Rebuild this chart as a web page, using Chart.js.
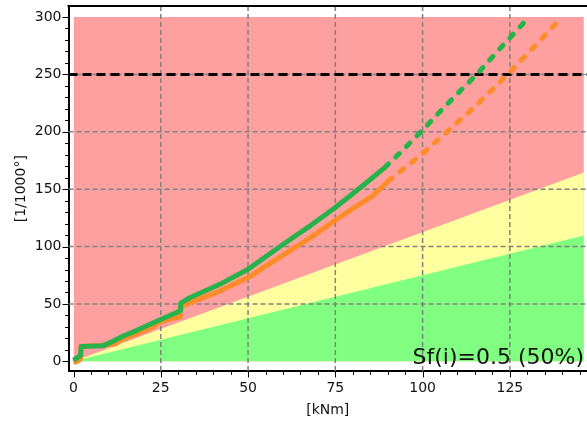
<!DOCTYPE html>
<html>
<head>
<meta charset="utf-8">
<script src="https://cdn.jsdelivr.net/npm/chart.js@4/dist/chart.umd.min.js"></script>
<style>
  html, body { margin: 0; padding: 0; background: #fff; }
  #wrap { width: 587px; height: 423px; }
</style>
</head>
<body>
<div id="wrap"><canvas id="angleChart"></canvas></div>
<script>
// twist angle vs torque, measured part solid, projected part dashed
var greenMeasuredX = [0, 1.2, 2, 2.2, 8.4, 11.3, 14.1, 18, 21.8, 25.6, 29.4, 30.6, 30.7, 33.3, 41.9, 50, 61, 68, 74.8, 80, 85.8, 89.2];
var greenMeasuredY = [1, 3.5, 5, 13, 13.5, 17.5, 21.9, 26.8, 32.1, 37.4, 42.3, 44.5, 50.7, 55.4, 67.1, 80.2, 104, 118.5, 133.6, 146, 160.4, 169];
var greenForecastX = [89.2, 94, 99.5, 107, 115.5, 122, 129];
var greenForecastY = [169, 183, 200, 224, 250, 272, 295];

var orangeMeasuredX = [0, 1, 2, 2.2, 8, 10, 12.2, 12.8, 15, 18, 22, 25, 28, 30.3, 30.5, 33.3, 41.9, 50, 61, 68, 74.8, 80, 85.8, 87.7, 90.1];
var orangeMeasuredY = [-1, 0, 2, 13, 14, 14.5, 15.5, 17.5, 20.5, 24, 29, 34.5, 37, 38.5, 47, 51, 61.2, 73, 94.5, 108, 122.5, 133, 144.4, 150, 157];
var orangeForecastX = [90.1, 100, 107, 115, 124.4, 131, 138.4];
var orangeForecastY = [157, 181, 200, 222, 250, 271, 295];

// zone boundaries (lower edge is the x axis)
var zoneX = [0, 146.2];
var redTop = [300, 300];
var yellowTop = [0, 164.5];
var greenTop = [0, 109.6];

var limitValue = 250;
var xMin = -1.43, xMax = 147.1;
var yMin = -8.75, yMax = 309.6;

// axis ticks: labelled every xLabelStep / yLabelStep, minor marks in between
var xTickStep = 5, xLabelStep = 25, xTickLast = 145;
var yTickStep = 10, yLabelStep = 50, yTickLast = 300;
var factorLabel = 'Sf(i)=0.5 (50%)';

function pts(xs, ys) {
  return xs.map(function (v, i) { return { x: v, y: ys[i] }; });
}
function tickList(step, last) {
  var out = [];
  for (var v = 0; v <= last; v += step) out.push({ value: v });
  return out;
}

var FONT = 'DejaVu Sans';
var INK = '#111';

var overlay = {
  id: 'overlay',
  afterDatasetDraw: function (chart, args) {
    if (args.index !== 2) return; // grid goes above the zones, under the curves
    var ctx = chart.ctx, a = chart.chartArea, sx = chart.scales.x, sy = chart.scales.y;
    ctx.save();
    ctx.strokeStyle = '#808080';
    ctx.lineWidth = 1.5;
    ctx.setLineDash([5, 3]);
    ctx.beginPath();
    sx.ticks.forEach(function (t) {
      if (t.value <= 0 || t.value % xLabelStep !== 0) return;
      var p = sx.getPixelForValue(t.value);
      ctx.moveTo(p, a.top); ctx.lineTo(p, a.bottom);
    });
    sy.ticks.forEach(function (t) {
      if (t.value <= 0 || t.value >= yTickLast || t.value % yLabelStep !== 0) return;
      var p = sy.getPixelForValue(t.value);
      ctx.moveTo(a.left, p); ctx.lineTo(a.right, p);
    });
    ctx.stroke();
    ctx.restore();
  },
  afterDatasetsDraw: function (chart) {
    var ctx = chart.ctx, a = chart.chartArea, sy = chart.scales.y;
    ctx.save();
    ctx.fillStyle = INK;
    ctx.font = '22px "' + FONT + '"';
    ctx.textAlign = 'right';
    ctx.textBaseline = 'alphabetic';
    ctx.fillText(factorLabel, a.right - 3, sy.getPixelForValue(0) + 3);
    ctx.restore();
  },
  afterDraw: function (chart) {
    var ctx = chart.ctx, a = chart.chartArea, sx = chart.scales.x, sy = chart.scales.y;
    ctx.save();
    ctx.strokeStyle = '#000';
    ctx.lineWidth = 1;
    ctx.beginPath();
    sx.ticks.forEach(function (t) {
      var p = Math.round(sx.getPixelForValue(t.value)) + 0.5;
      var len = t.value % xLabelStep === 0 ? 6 : 3.5;
      ctx.moveTo(p, a.bottom); ctx.lineTo(p, a.bottom + len);
    });
    sy.ticks.forEach(function (t) {
      var p = Math.round(sy.getPixelForValue(t.value)) + 0.5;
      var len = t.value % yLabelStep === 0 ? 6 : 3.5;
      ctx.moveTo(a.left, p); ctx.lineTo(a.left - len, p);
    });
    ctx.stroke();
    ctx.lineWidth = 2;
    ctx.beginPath();
    ctx.moveTo(a.left - 1, a.top); ctx.lineTo(a.right, a.top);
    ctx.stroke();
    ctx.restore();
  }
};

var ctx = document.getElementById('angleChart').getContext('2d');
var angleChart = new Chart(ctx, {
  type: 'line',
  data: {
    datasets: [
      { data: pts(zoneX, redTop), backgroundColor: 'rgb(255,160,160)', fill: 'origin', borderWidth: 0, order: 9 },
      { data: pts(zoneX, yellowTop), backgroundColor: 'rgb(255,255,160)', fill: 'origin', borderWidth: 0, order: 8 },
      { data: pts(zoneX, greenTop), backgroundColor: 'rgb(128,255,128)', fill: 'origin', borderWidth: 0, order: 7 },
      { data: pts([xMin, xMax], [limitValue, limitValue]), borderColor: '#000', borderWidth: 3, borderDash: [9, 5], order: 6 },
      { data: pts(orangeForecastX, orangeForecastY), borderColor: 'rgb(255,140,40)', borderWidth: 5, borderDash: [5, 10], borderCapStyle: 'round', order: 5 },
      { data: pts(greenForecastX, greenForecastY), borderColor: 'rgb(40,178,76)', borderWidth: 5, borderDash: [5, 10], borderCapStyle: 'round', order: 4 },
      { data: pts(orangeMeasuredX, orangeMeasuredY), borderColor: 'rgb(255,140,40)', borderWidth: 5, borderJoinStyle: 'round', order: 3 },
      { data: pts(greenMeasuredX, greenMeasuredY), borderColor: 'rgb(40,178,76)', borderWidth: 5, borderJoinStyle: 'round', order: 2 }
    ]
  },
  options: {
    responsive: true,
    maintainAspectRatio: false,
    animation: false,
    events: [],
    layout: { padding: { top: 6, right: 0, bottom: 4, left: 13 } },
    elements: { point: { radius: 0 }, line: { tension: 0 } },
    plugins: { legend: { display: false }, tooltip: { enabled: false } },
    scales: {
      x: {
        type: 'linear',
        min: xMin, max: xMax,
        afterBuildTicks: function (s) { s.ticks = tickList(xTickStep, xTickLast); },
        ticks: {
          autoSkip: false, maxRotation: 0, padding: 3,
          color: INK, font: { family: FONT, size: 14 },
          callback: function (v) { return v % xLabelStep === 0 ? v : ''; }
        },
        grid: { drawOnChartArea: false, drawTicks: true, tickLength: 6, tickColor: 'rgba(0,0,0,0)' },
        border: { display: true, color: '#000', width: 2 },
        title: { display: true, text: '[kNm]', color: INK, font: { family: FONT, size: 14 }, padding: { top: 2, bottom: 0 } }
      },
      y: {
        min: yMin, max: yMax,
        afterBuildTicks: function (s) { s.ticks = tickList(yTickStep, yTickLast); },
        // end labels sit inside the range, so no extra room above/below
        afterFit: function (s) { s.paddingTop = 0; s.paddingBottom = 0; },
        ticks: {
          autoSkip: false, padding: 1,
          color: INK, font: { family: FONT, size: 14 },
          callback: function (v) { return v % yLabelStep === 0 ? v : ''; }
        },
        grid: { drawOnChartArea: false, drawTicks: true, tickLength: 6, tickColor: 'rgba(0,0,0,0)' },
        border: { display: true, color: '#000', width: 2 },
        title: { display: true, text: '[1/1000°]', color: INK, font: { family: FONT, size: 14 }, padding: { top: 0, bottom: 4 } }
      }
    }
  },
  plugins: [overlay]
});
</script>
</body>
</html>
